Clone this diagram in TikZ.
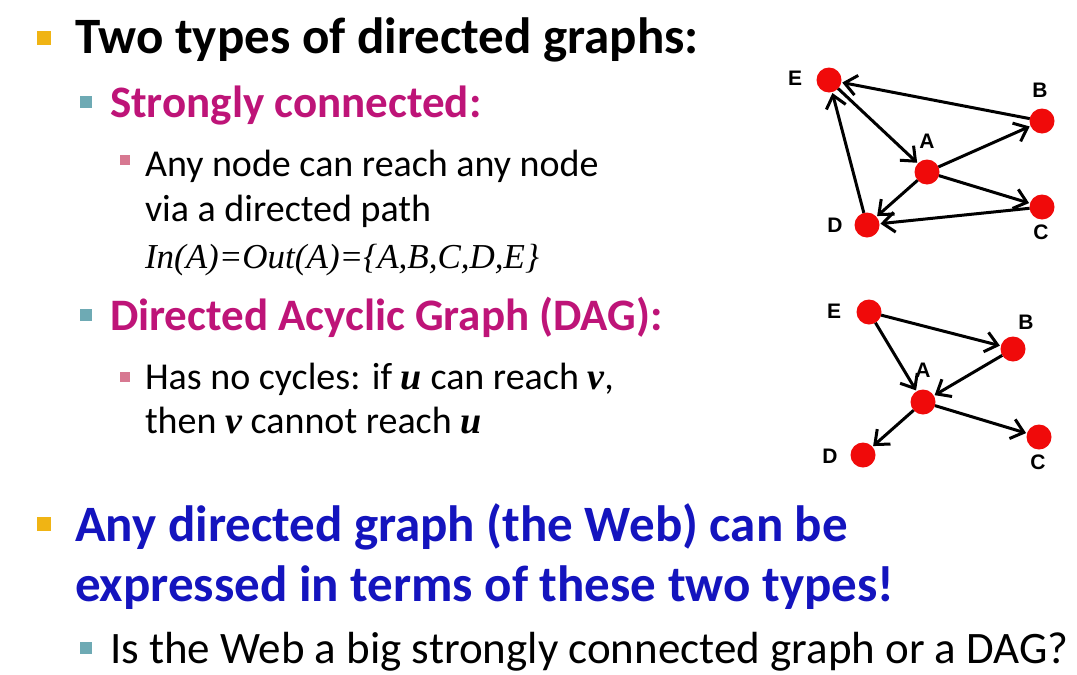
\documentclass[tikz,border=0pt]{standalone}
\usepackage{fontspec}
\setmainfont{Carlito}
\newfontfamily\tnr{Liberation Serif}
\newfontfamily\arl{Liberation Sans}
\usetikzlibrary{positioning,arrows.meta}
\definecolor{Headblue}{RGB}{20,20,190}
\definecolor{Subpink}{RGB}{190,20,120}
\definecolor{BulOrange}{RGB}{240,180,20}
\definecolor{BulTeal}{RGB}{110,170,180}
\definecolor{BulRose}{RGB}{215,120,145}
\definecolor{Vred}{RGB}{240,10,10}

\begin{document}
\begin{tikzpicture}[x=1pt, y=-1pt, every node/.style={inner sep=0pt, outer sep=0pt}]
\tikzstyle{txt}=[anchor=base west]
\tikzstyle{lvla}=[txt, font=\fontsize{51}{58}\selectfont\bfseries]
\tikzstyle{lvlb}=[txt, font=\fontsize{45}{52}\selectfont\bfseries, text=Subpink]
\tikzstyle{lvlc}=[txt, font=\fontsize{38}{44}\selectfont]
\tikzstyle{bula}=[rectangle, fill=BulOrange, minimum size=14pt]
\tikzstyle{bulb}=[rectangle, fill=BulTeal, minimum size=12pt]
\tikzstyle{bulc}=[rectangle, fill=BulRose, minimum size=10pt]
\tikzstyle{vtx}=[circle, fill=Vred, minimum size=25pt]
\tikzstyle{vlbl}=[font=\arl\fontsize{21}{24}\selectfont\bfseries]
\tikzstyle{edge}=[-{Straight Barb[length=12pt,width=20pt,line width=3pt]}, line width=3pt, shorten >=1pt]
\useasboundingbox (0,0) rectangle (1077,675);
\fill[white] (0,0) rectangle (1077,675);

\node[bula] (b1) at (44,38) {};
\node[lvla] (t1) at (75,53) {Two types of directed graphs:};
\node[bulb] (b2) at (86,102) {};
\node[lvlb] (t2) at (110,117) {Strongly connected:};
\node[bulc] (b3) at (125,160) {};
\node[lvlc] (t3) at (145,176) {Any node can reach any node};
\node[lvlc] (t4) at (145,221) {via a directed path};
\node[txt, font=\tnr\fontsize{35}{40}\selectfont\itshape] (t5) at (145,268) {In(A)=Out(A)=\{A,B,C,D,E\}};
\node[bulb] (b4) at (86,315) {};
\node[lvlb] (t6) at (110,330) {Directed Acyclic Graph (DAG):};
\node[bulc] (b5) at (125,377) {};
\node[lvlc] (t7) at (145,389) {Has no cycles: if {\tnr\bfseries\itshape u} can reach {\tnr\bfseries\itshape v},};
\node[lvlc] (t8) at (145,433) {then {\tnr\bfseries\itshape v} cannot reach {\tnr\bfseries\itshape u}};
\node[bula] (b6) at (44,524) {};
\node[lvla, text=Headblue] (t9) at (75,541) {Any directed graph (the Web) can be};
\node[lvla, text=Headblue] (t10) at (75,601) {expressed in terms of these two types!};
\node[bulb] (b7) at (86,648) {};
\node[txt, font=\fontsize{45}{52}\selectfont] (t11) at (110,663) {Is the Web a big strongly connected graph or a DAG?};

\node[vtx] (se) at (829,80) {};
\node[vtx] (sb) at (1042,121) {};
\node[vtx] (sa) at (927,172) {};
\node[vtx] (sc) at (1042,207) {};
\node[vtx] (sd) at (867,225) {};
\node[vlbl] (lse) at (795,78) {E};
\node[vlbl] (lsb) at (1040,90) {B};
\node[vlbl] (lsa) at (927,141) {A};
\node[vlbl] (lsc) at (1041,232) {C};
\node[vlbl] (lsd) at (835,225) {D};
\draw[edge] (sb) -- (se);
\draw[edge] (se) -- (sa);
\draw[edge] (sa) -- (sb);
\draw[edge] (sa) -- (sc);
\draw[edge] (sa) -- (sd);
\draw[edge] (sc) -- (sd);
\draw[edge] (sd) -- (se);

\node[vtx] (de) at (869,312) {};
\node[vtx] (db) at (1013,349) {};
\node[vtx] (da) at (923,402) {};
\node[vtx] (dc) at (1039,437) {};
\node[vtx] (dd) at (863,455) {};
\node[vlbl] (lde) at (834,311) {E};
\node[vlbl] (ldb) at (1026,322) {B};
\node[vlbl] (lda) at (923,370) {A};
\node[vlbl] (ldc) at (1038,462) {C};
\node[vlbl] (ldd) at (830,456) {D};
\draw[edge] (de) -- (db);
\draw[edge] (de) -- (da);
\draw[edge] (db) -- (da);
\draw[edge] (da) -- (dd);
\draw[edge] (da) -- (dc);
\end{tikzpicture}
\end{document}
